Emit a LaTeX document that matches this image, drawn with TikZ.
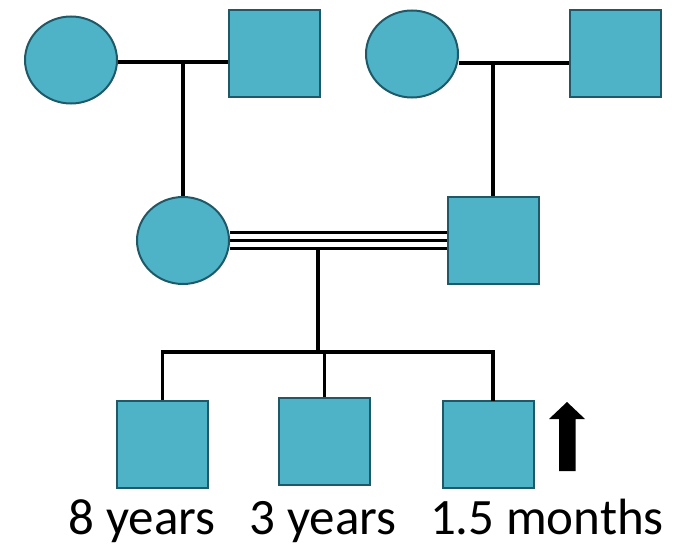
\documentclass[tikz,border=0pt]{standalone}
\usepackage{fontspec}
\setmainfont{Carlito}
\usetikzlibrary{shapes.geometric, calc}
\definecolor{pedFill}{HTML}{4FB3C8}
\definecolor{pedEdge}{HTML}{1F5866}

\begin{document}
\begin{tikzpicture}[
    x=1pt, y=-1pt,
    female/.style={ellipse, draw=pedEdge, fill=pedFill, line width=2pt,
                   minimum width=92pt, minimum height=87pt, inner sep=0pt},
    male/.style={rectangle, draw=pedEdge, fill=pedFill, line width=2pt,
                 minimum width=91pt, minimum height=87pt, inner sep=0pt},
    link/.style={draw=black, line width=3.5pt},
    agelabel/.style={anchor=base, inner sep=0pt,
                     font=\fontsize{51}{60}\selectfont},
  ]
    \useasboundingbox (0,0) rectangle (675,546);

    % grandparents
    \node[female] (gm1) at (71,60) {};
    \node[male]   (gf1) at (274,53.5) {};
    \node[female] (gm2) at (412,54) {};
    \node[male]   (gf2) at (615,53.5) {};

    % parents
    \node[female] (mother) at (183,240.5) {};
    \node[male]   (father) at (493,240.5) {};

    % children
    \node[male] (kid1) at (162.5,444.5) {};
    \node[male] (kid2) at (324.5,441.5) {};
    \node[male] (kid3) at (488,444.5) {};

    \node[agelabel] (age1) at (142,534) {8 years};
    \node[agelabel] (age2) at (323,534) {3 years};
    \node[agelabel] (age3) at (547,534) {1.5 months};

    \coordinate (m1) at (183,62);
    \coordinate (m2) at (493,63);
    \coordinate (m3) at (318,248.5);
    \coordinate (sib) at (318,352);

    \draw[link] (gm1.east |- m1) -- (gf1.west |- m1);
    \draw[link] (m1) -- (mother.north);
    \draw[link] (gm2.east |- m2) -- (gf2.west |- m2);
    \draw[link] (m2) -- (father.north);

    % consanguineous union
    \draw[link, line width=3pt] ([yshift=8pt]mother.east) -- ([yshift=8pt]mother.east -| father.west);
    \draw[link, line width=3pt] (mother.east) -- (mother.east -| father.west);
    \draw[link, line width=3pt] ([yshift=-8pt]mother.east) -- ([yshift=-8pt]mother.east -| father.west);

    \draw[link] (m3) -- (sib);
    \draw[link] (kid1.north) -- (kid1.north |- sib) -- ($(kid3.north |- sib)+(5,0)$) -- ++(0,49);
    \draw[link] (kid2.north) -- (kid2.north |- sib);

    % proband
    \fill (567,402) -- (585,419) -- (575.5,419) -- (575.5,471)
      -- (559,471) -- (559,419) -- (549,419) -- cycle;
  \end{tikzpicture}
\end{document}
